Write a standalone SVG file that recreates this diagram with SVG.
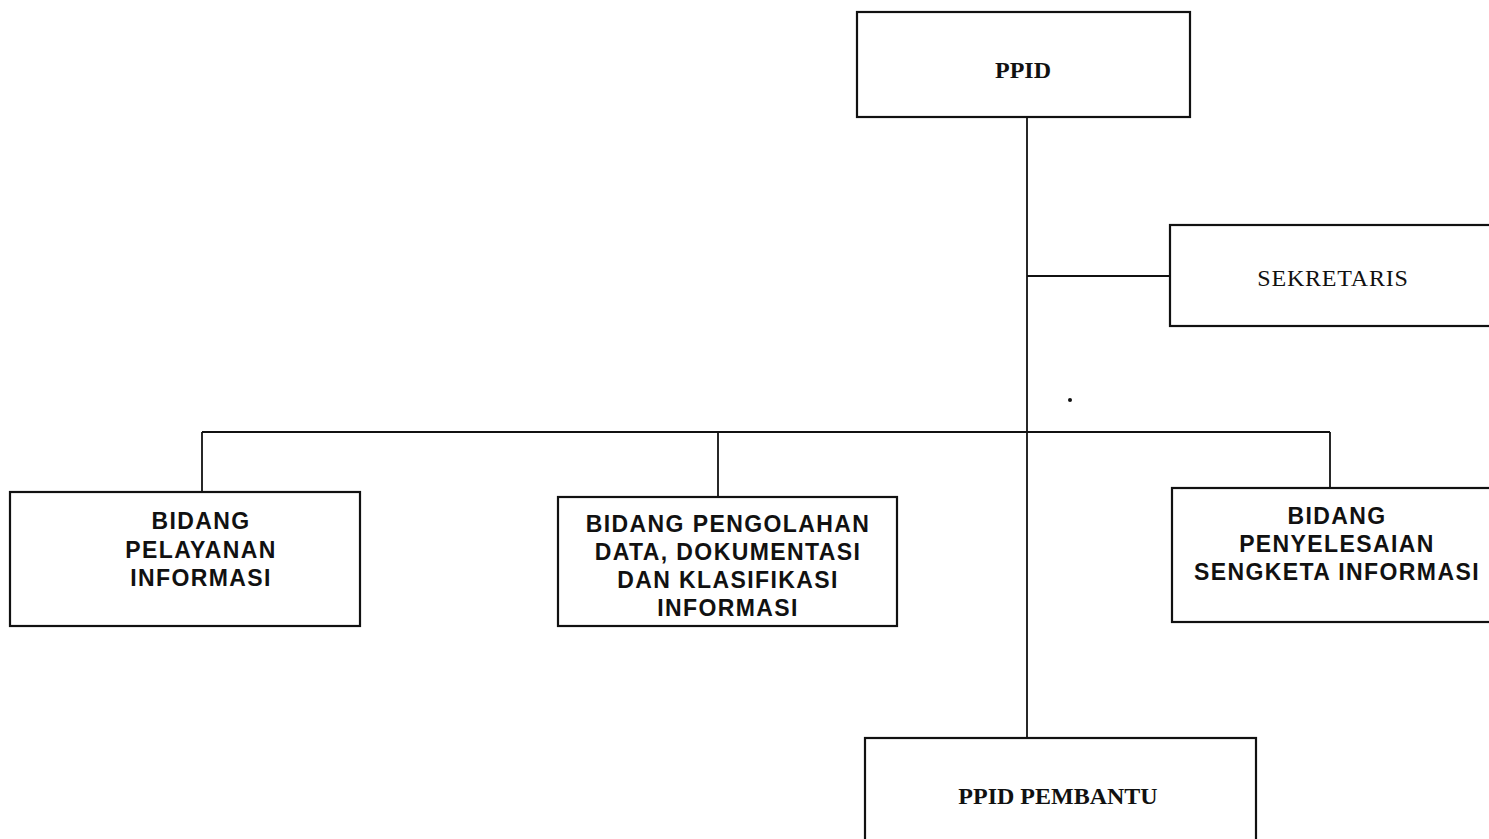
<svg xmlns="http://www.w3.org/2000/svg" width="1489" height="839" viewBox="0 0 1489 839">
<style>
.box{fill:#fff;stroke:#111;stroke-width:2.2}
.ln{stroke:#111;stroke-width:1.8;fill:none}
.t1{font-family:"Liberation Serif",serif;font-size:24px;fill:#111;text-anchor:middle}
.t2{font-family:"Liberation Sans",sans-serif;font-weight:bold;font-size:23px;fill:#111;text-anchor:middle;letter-spacing:1.4px}
</style>
<rect width="1489" height="839" fill="#fff"/>
<g id="connectors">
<line class="ln" x1="1027" y1="117" x2="1027" y2="738"/>
<line class="ln" x1="1027" y1="276" x2="1170" y2="276"/>
<line class="ln" x1="202" y1="432" x2="1330" y2="432"/>
<line class="ln" x1="202" y1="432" x2="202" y2="492"/>
<line class="ln" x1="718" y1="432" x2="718" y2="497"/>
<line class="ln" x1="1330" y1="432" x2="1330" y2="488"/>
</g>
<g id="ppid">
<rect class="box" x="857" y="12" width="333" height="105"/>
<text class="t1" x="1023" y="78" font-weight="bold">PPID</text>
</g>
<g id="sekretaris">
<rect class="box" x="1170" y="225" width="330" height="101"/>
<text class="t1" x="1333" y="286" letter-spacing="0.8">SEKRETARIS</text>
</g>
<g id="bidang-pelayanan">
<rect class="box" x="10" y="492" width="350" height="134"/>
<text class="t2" x="201" y="529">BIDANG</text>
<text class="t2" x="201" y="558">PELAYANAN</text>
<text class="t2" x="201" y="586">INFORMASI</text>
</g>
<g id="bidang-pengolahan">
<rect class="box" x="558" y="497" width="339" height="129"/>
<text class="t2" x="728" y="532">BIDANG PENGOLAHAN</text>
<text class="t2" x="728" y="560">DATA, DOKUMENTASI</text>
<text class="t2" x="728" y="588">DAN KLASIFIKASI</text>
<text class="t2" x="728" y="616">INFORMASI</text>
</g>
<g id="bidang-penyelesaian">
<rect class="box" x="1172" y="488" width="330" height="134"/>
<text class="t2" x="1337" y="524">BIDANG</text>
<text class="t2" x="1337" y="552">PENYELESAIAN</text>
<text class="t2" x="1337" y="580">SENGKETA INFORMASI</text>
</g>
<g id="ppid-pembantu">
<rect class="box" x="865" y="738" width="391" height="110"/>
<text class="t1" x="1058" y="804" font-weight="bold">PPID PEMBANTU</text>
</g>
<circle cx="1070" cy="400" r="2" fill="#111"/>
</svg>
